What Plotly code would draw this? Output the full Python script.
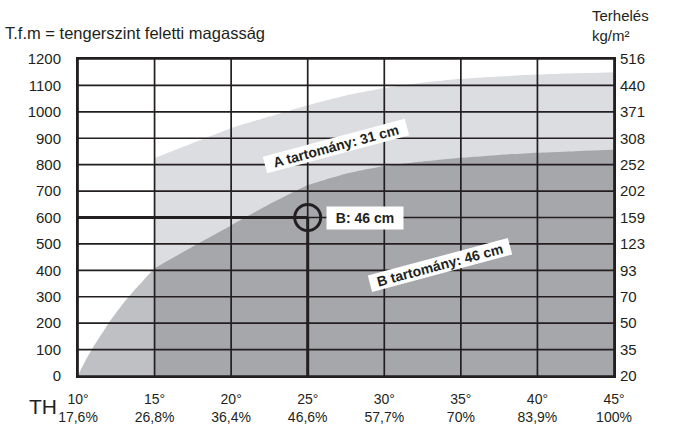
import plotly.graph_objects as go

# ---- data ----
deg_ticks = [10, 15, 20, 25, 30, 35, 40, 45]
pct_labels = ["17,6%", "26,8%", "36,4%", "46,6%", "57,7%", "70%", "83,9%", "100%"]
alt_ticks = [0, 100, 200, 300, 400, 500, 600, 700, 800, 900, 1000, 1100, 1200]
load_labels = ["20", "35", "50", "70", "93", "123", "159", "202", "252", "308", "371", "440", "516"]

# lower boundary (B range) – slope angle vs altitude
b_x_left = [10, 10.25, 10.5, 11, 11.5, 12, 12.5, 13, 13.5, 14, 14.5, 15]
b_y_left = [0, 32, 60, 110, 155, 200, 240, 278, 312, 345, 377, 408]
b_x_right = [15, 17.5, 20, 22.5, 25, 27.5, 30, 32.5, 35, 37.5, 40, 42.5, 45]
b_y_right = [408, 490, 570, 650, 722, 766, 795, 812, 826, 837, 845, 851, 856]

# upper boundary (A range)
a_x = [15, 17.5, 20, 22.5, 25, 27.5, 30, 32.5, 35, 37.5, 40, 42.5, 45]
a_y = [825, 882, 938, 982, 1025, 1062, 1090, 1110, 1125, 1134, 1141, 1146, 1150]

# reading example
ex_deg = 25
ex_alt = 600

LIGHT = "#dcdde0"
DARK = "#a6a7aa"
MID = "#bfc0c3"
INK = "#231f20"
REG = "Liberation Sans, Arial, Helvetica, sans-serif"

fig = go.Figure()

# A range (light)
fig.add_trace(go.Scatter(x=a_x, y=a_y, fill="tozeroy", fillcolor=LIGHT, mode="lines",
                         line=dict(width=0, color=LIGHT, shape="spline", smoothing=0.5),
                         hoverinfo="skip", showlegend=False))
# B range (dark) for >=15 deg
fig.add_trace(go.Scatter(x=b_x_right, y=b_y_right, fill="tozeroy", fillcolor=DARK, mode="lines",
                         line=dict(width=0, color=DARK, shape="spline", smoothing=0.5),
                         hoverinfo="skip", showlegend=False))
# below 15 deg (mid gray)
fig.add_trace(go.Scatter(x=b_x_left, y=b_y_left, fill="tozeroy", fillcolor=MID, mode="lines",
                         line=dict(width=0, color=MID, shape="spline", smoothing=0.3),
                         hoverinfo="skip", showlegend=False))

# grid lines on top of fills
gx, gy = [], []
for d in deg_ticks:
    gx += [d, d, None]
    gy += [alt_ticks[0], alt_ticks[-1], None]
for a in alt_ticks:
    gx += [deg_ticks[0], deg_ticks[-1], None]
    gy += [a, a, None]
fig.add_trace(go.Scatter(x=gx, y=gy, mode="lines", line=dict(color=INK, width=1.7),
                         hoverinfo="skip", showlegend=False))

# reading example lines
fig.add_trace(go.Scatter(x=[deg_ticks[0], ex_deg, None, ex_deg, ex_deg],
                         y=[ex_alt, ex_alt, None, 0, ex_alt], mode="lines",
                         line=dict(color=INK, width=3), hoverinfo="skip", showlegend=False))
fig.add_trace(go.Scatter(x=[ex_deg], y=[ex_alt], mode="markers",
                         marker=dict(symbol="circle-open", size=26, color=INK, line=dict(width=3, color=INK)),
                         hoverinfo="skip", showlegend=False))

# invisible trace for right axis
fig.add_trace(go.Scatter(x=[deg_ticks[0]], y=[0], yaxis="y2", mode="markers",
                         marker=dict(opacity=0), hoverinfo="skip", showlegend=False))

fig.update_layout(
    width=686, height=425,
    margin=dict(l=78, r=72, t=59, b=49, autoexpand=False),
    paper_bgcolor="white", plot_bgcolor="white",
    hovermode=False,
    font=dict(family=REG, color=INK),
    xaxis=dict(range=[10, 45], tickvals=deg_ticks,
               ticktext=[f"{d}°<br>{p}" for d, p in zip(deg_ticks, pct_labels)],
               ticks="outside", ticklen=9, tickcolor="rgba(0,0,0,0)",
               tickfont=dict(size=14, family=REG, color=INK), automargin=False, fixedrange=True,
               showgrid=False, zeroline=False, showline=True, linecolor=INK, linewidth=2, mirror=True),
    yaxis=dict(range=[0, 1200], tickvals=alt_ticks, ticktext=[str(a) for a in alt_ticks],
               ticks="outside", ticklen=12, tickcolor="rgba(0,0,0,0)", automargin=False, fixedrange=True,
               tickfont=dict(size=15, family=REG, color=INK),
               showgrid=False, zeroline=False, showline=True, linecolor=INK, linewidth=2, mirror=True),
    yaxis2=dict(range=[0, 1200], overlaying="y", side="right", tickvals=alt_ticks, ticktext=load_labels,
                ticks="outside", ticklen=2, tickcolor="rgba(0,0,0,0)", automargin=False, fixedrange=True,
                tickfont=dict(size=15, family=REG, color=INK),
                showgrid=False, zeroline=False, showline=False),
)

ann = []
ann.append(dict(xref="paper", yref="paper", x=-75/536, y=1 + 26/317, xanchor="left", yanchor="middle",
                text="T.f.m = tengerszint feletti magasság", showarrow=False,
                font=dict(size=16.5, family=REG, color=INK)))
ann.append(dict(xref="paper", yref="paper", x=1 - 24/536, y=1 + 43/317, xanchor="left", yanchor="middle",
                text="Terhelés", showarrow=False, align="left",
                font=dict(size=15, family=REG, color=INK)))
ann.append(dict(xref="paper", yref="paper", x=1 - 24/536, y=1 + 24/317, xanchor="left", yanchor="middle",
                text="kg/m²", showarrow=False, align="left",
                font=dict(size=15, family=REG, color=INK)))
ann.append(dict(xref="paper", yref="paper", x=-35/536, y=-30/317, xanchor="center", yanchor="middle",
                text="TH", showarrow=False, font=dict(size=21, family=REG, color=INK)))
ann.append(dict(x=28.74, y=ex_alt, text="<b>B: 46 cm</b>", showarrow=False, bgcolor="white",
                width=70, borderpad=3, font=dict(size=14, family=REG, color=INK)))
ann.append(dict(x=26.85, y=870, text="<b>A tartomány: 31 cm</b>", showarrow=False, bgcolor="white",
                textangle=-15, width=146, borderpad=0, font=dict(size=14, family=REG, color=INK)))
ann.append(dict(x=33.64, y=420, text="<b>B tartomány: 46 cm</b>", showarrow=False, bgcolor="white",
                textangle=-15, width=144, borderpad=0, font=dict(size=14, family=REG, color=INK)))
fig.update_layout(annotations=ann)

fig.write_html("out.html", config={"displayModeBar": False},
               post_script="document.body.style.margin='0px';")
